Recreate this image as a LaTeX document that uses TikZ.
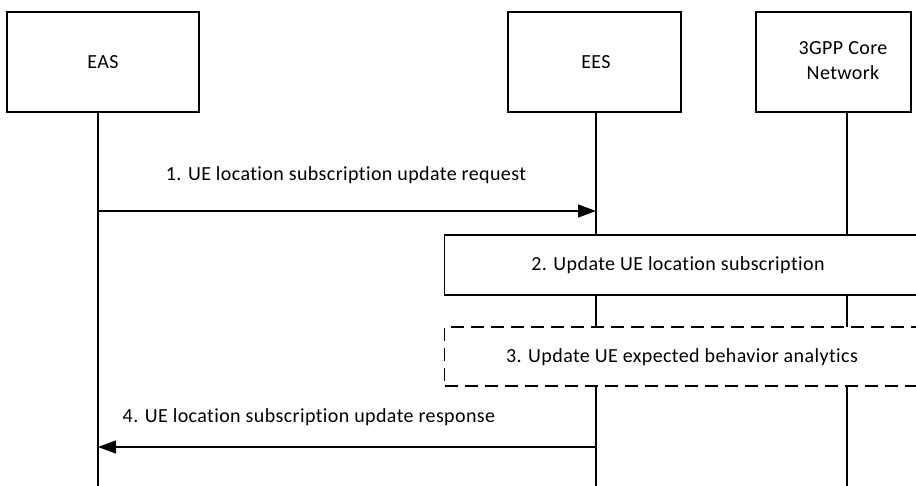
\documentclass[tikz,border=0pt]{standalone}
\usepackage{fontspec}
\setmainfont{Carlito}[Ligatures=NoCommon, LetterSpace=2]
\usetikzlibrary{arrows.meta}
\begin{document}
\begin{tikzpicture}[x=1pt,y=-1pt,line width=1.3pt,
  txt/.style={font=\fontsize{20}{25}\selectfont, inner sep=0pt, align=center},
  actor/.style={draw, fill=white, minimum height=100pt, inner sep=0pt, txt},
  stepbox/.style={draw, fill=white, minimum height=60pt, inner sep=0pt},
  optbox/.style={draw, fill=white, dash pattern=on 13pt off 7pt, minimum height=59pt, inner sep=0pt},
  lifeline/.style={draw},
  msg/.style={draw, -{Triangle[length=18pt,width=13pt]}}]
\useasboundingbox (0,0) rectangle (916,486);
\clip (0,0) rectangle (916,486);
\fill[white] (0,0) rectangle (916,486);

% actors
\node[actor, minimum width=192pt] (eas) at (103,62) {EAS};
\node[actor, minimum width=173pt] (ees) at (594.5,62) {};
\node[txt] (eestxt) at (596,62) {EES};
\node[actor, minimum width=155pt] (cn) at (833.5,62) {};
\node[txt] (cntxt) at (843,61) {3GPP Core\\Network};

% lifeline ends
\coordinate (easend) at (98,486);
\coordinate (eesend) at (596,486);
\coordinate (cnend) at (847,486);

\draw[lifeline] (eas.south -| easend) -- (easend);
\draw[lifeline] (ees.south -| eesend) -- (eesend);
\draw[lifeline] (cn.south -| cnend) -- (cnend);

% step 1
\coordinate (m1s) at (98,211);
\coordinate (m1e) at (596,211);
\draw[msg] (m1s) -- (m1e);
\node[txt] (l1) at (346,175) {1. UE location subscription update request};

% step 2
\node[stepbox, minimum width=490pt, anchor=west] (s2) at (444,265) {};
\node[txt] (l2) at (678,265) {2. Update UE location subscription};

% step 3
\node[optbox, minimum width=490pt, anchor=west] (s3) at (444,356.5) {};
\node[txt] (l3) at (682,357) {3. Update UE expected behavior analytics};

% step 4
\coordinate (m4s) at (596,447);
\coordinate (m4e) at (98,447);
\draw[msg] (m4s) -- (m4e);
\node[txt] (l4) at (309,417) {4. UE location subscription update response};
\end{tikzpicture}
\end{document}
